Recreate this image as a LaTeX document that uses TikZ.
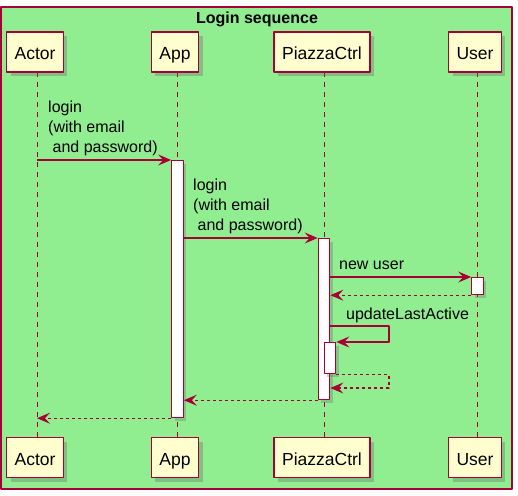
\documentclass[tikz,border=0pt]{standalone}
\usepackage{fontspec}
\setmainfont{Liberation Sans}
\usetikzlibrary{arrows.meta,shadows}
\definecolor{umlred}{HTML}{A80036}
\definecolor{umlbg}{HTML}{90EE90}
\definecolor{umlpart}{HTML}{FEFECE}
\tikzset{
  part/.style={draw=umlred,line width=1.8pt,fill=umlpart,minimum height=40pt,inner xsep=8pt,
    text height=15pt,text depth=0pt,font=\fontsize{17.5}{21}\selectfont,
    drop shadow={shadow xshift=4pt,shadow yshift=-4pt,opacity=.35,fill=black!60}},
  act/.style={draw=umlred,line width=1.2pt,fill=white,minimum width=11.5pt,inner sep=0pt,anchor=north,
    drop shadow={shadow xshift=3pt,shadow yshift=-3pt,opacity=.3,fill=black!60}},
  life/.style={draw=umlred,line width=1pt,dash pattern=on 5pt off 5pt},
  msg/.style={draw=umlred,line width=1.2pt,-{Stealth[length=13pt,width=11pt,inset=5pt]}},
  ret/.style={msg,dash pattern=on 3pt off 3pt},
  lbl/.style={font=\fontsize{16}{20}\selectfont,align=left,inner sep=0pt}
}
\begin{document}
\begin{tikzpicture}[x=1pt,y=-1pt,line join=round]
\useasboundingbox (0,0) rectangle (518,495);
\draw[umlred,line width=1.2pt,fill=umlbg] (1,7) rectangle (512,489);
\node[font=\fontsize{16}{19}\bfseries] (title) at (257,19) {Login sequence};
% participants and lifelines
\foreach \n/\t/\x in {A/Actor/37,B/App/177,C/PiazzaCtrl/324,D/User/477}{
  \draw[life] (\x,72) -- (\x,438);
  \node[part] (t\n) at (\x-2,52) {\t};
  \node[part] (b\n) at (\x-2,457.5) {\t};
};
% activations
\node[act,minimum height=257pt] (aB) at (177.5,160) {};
\node[act,minimum height=161pt] (aC) at (324,238) {};
\node[act,minimum height=17pt] (aD) at (477.5,277) {};
\node[act,minimum height=31pt] (aN) at (330,342) {};
\coordinate (selfR) at (389,0);
% messages
\draw[msg] (37,0 |- aB.north) -- (aB.north west);
\node[lbl,anchor=south west] (m1) at (48,156) {login\\(with email\\\hspace*{4.5pt}and password)};
\draw[msg] (aB.east |- aC.north) -- (aC.north west);
\node[lbl,anchor=south west] (m2) at (193,234) {login\\(with email\\\hspace*{4.5pt}and password)};
\draw[msg] (aC.east |- aD.north) -- (aD.north west);
\node[lbl,anchor=base west] (m3) at (339,269) {new user};
\draw[ret] (aD.south west) -- (aC.east |- aD.south);
\draw[msg] (aC.east |- 0,326) -- (selfR |- 0,326) -- (selfR |- aN.north) -- (aN.north east);
\node[lbl,anchor=base west] (m4) at (346,319) {updateLastActive};
\draw[ret] (aN.south east) -- (selfR |- aN.south) -- (selfR |- 0,388) -- (aC.east |- 0,388);
\draw[ret] (aC.south west) -- (aB.east |- aC.south);
\draw[ret] (aB.south west) -- (37,0 |- aB.south);
\end{tikzpicture}
\end{document}
